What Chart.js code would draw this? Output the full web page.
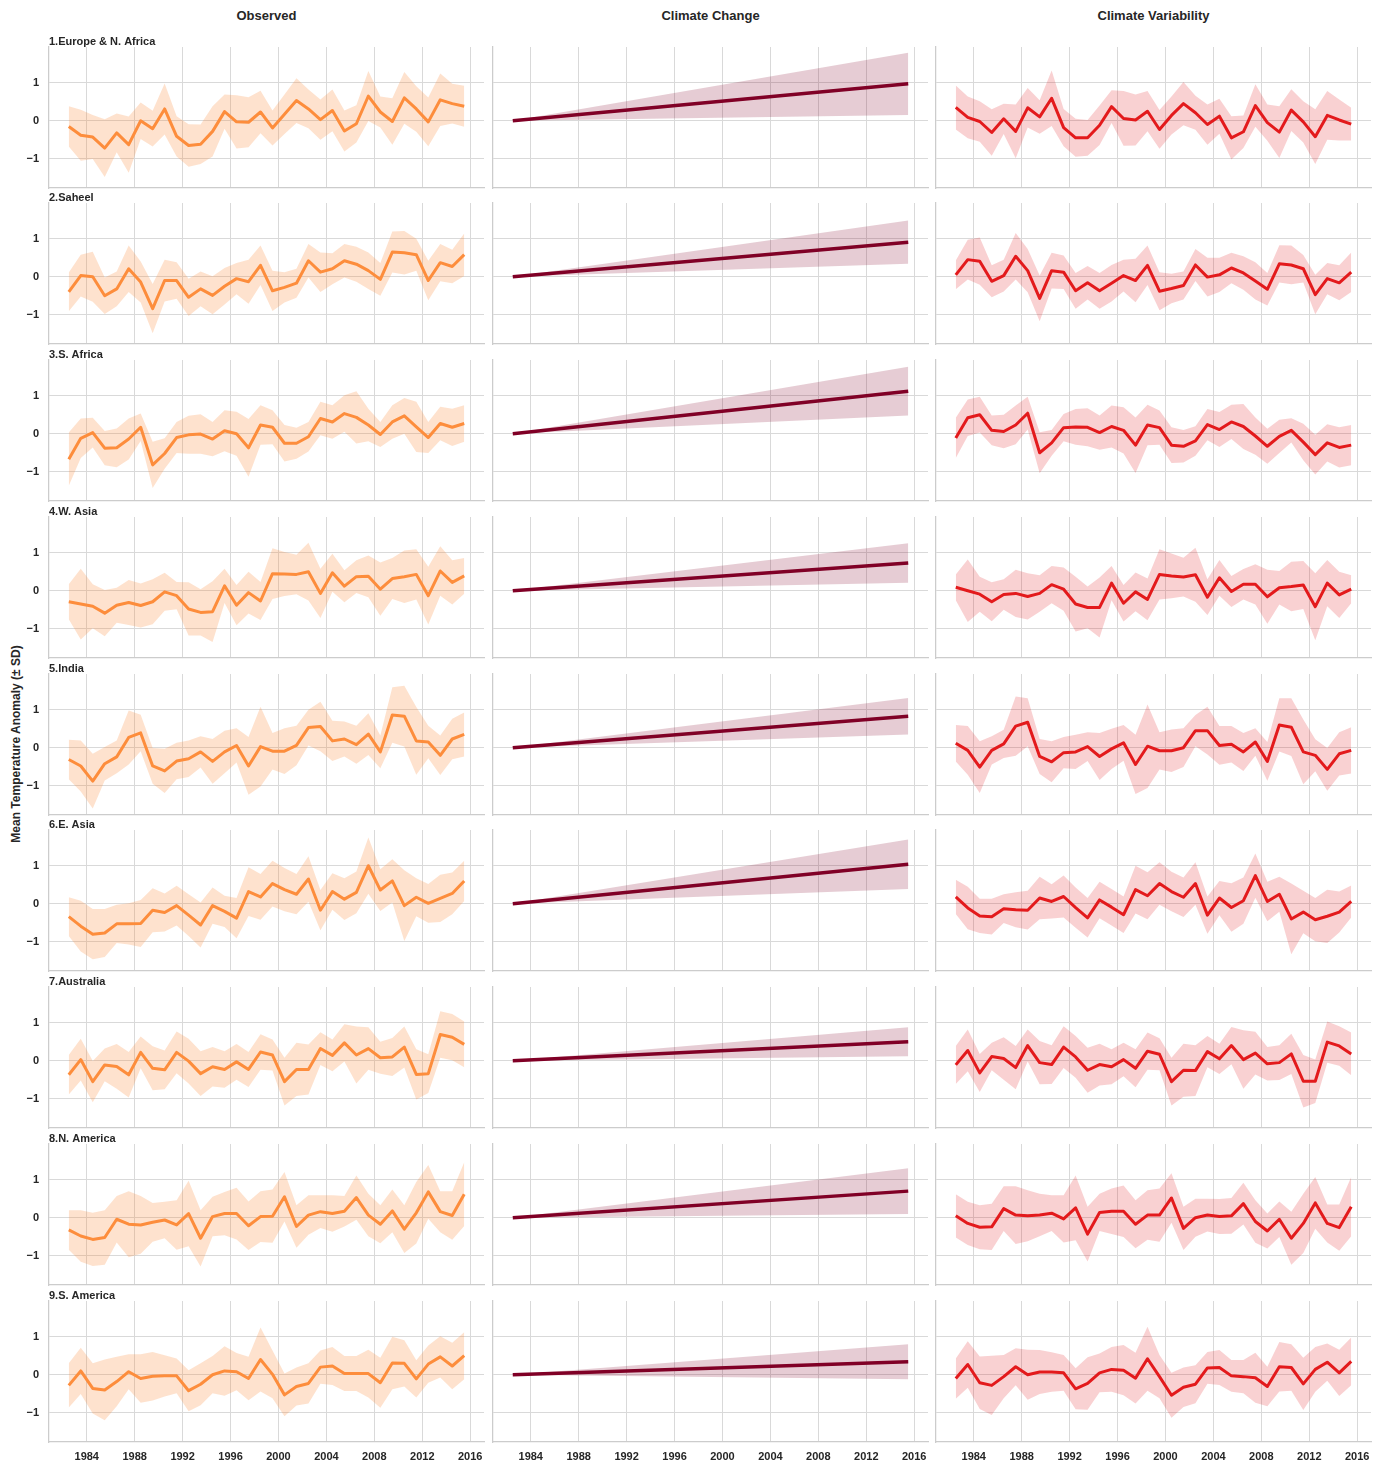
<!DOCTYPE html>
<html>
<head>
<meta charset="utf-8">
<script src="https://cdn.jsdelivr.net/npm/chart.js@4.4.1/dist/chart.umd.min.js"></script>
<style>
    body { margin: 0; background: #fff; width: 1386px; height: 1465px; position: relative; overflow: hidden;
           font-family: "Liberation Sans", Arial, sans-serif; color: #262626; }
    canvas { position: absolute; }
    .col-head { position: absolute; top: 8px; width: 435px; text-align: center; font-weight: bold; font-size: 13px; }
    .y-label { position: absolute; left: 16px; top: 744px; transform: translate(-50%, -50%) rotate(-90deg);
               white-space: nowrap; font-weight: bold; font-size: 12px; }
</style>
</head>
<body>
<div class="col-head" style="left:49px">Observed</div>
<div class="col-head" style="left:493px">Climate Change</div>
<div class="col-head" style="left:936px">Climate Variability</div>
<div class="y-label">Mean Temperature Anomaly (± SD)</div>

<script>
// Panel data
const regions = ['1.Europe & N. Africa', '2.Saheel', '3.S. Africa', '4.W. Asia', '5.India',
                 '6.E. Asia', '7.Australia', '8.N. America', '9.S. America'];
const years = [1982.5, 1983.5, 1984.5, 1985.5, 1986.5, 1987.5, 1988.5, 1989.5, 1990.5, 1991.5,
               1992.5, 1993.5, 1994.5, 1995.5, 1996.5, 1997.5, 1998.5, 1999.5, 2000.5, 2001.5,
               2002.5, 2003.5, 2004.5, 2005.5, 2006.5, 2007.5, 2008.5, 2009.5, 2010.5, 2011.5,
               2012.5, 2013.5, 2014.5, 2015.5];
const xTicks = [1984, 1988, 1992, 1996, 2000, 2004, 2008, 2012, 2016];
const yTicks = [-1, 0, 1];

// Observed: mean anomaly and SD per region
const obsMean = [
    [-0.15,-0.38,-0.43,-0.72,-0.32,-0.63,0.0,-0.21,0.31,-0.41,-0.65,-0.62,-0.28,0.24,-0.03,-0.04,0.23,-0.19,0.17,0.53,0.31,0.03,0.27,-0.27,-0.08,0.65,0.23,-0.02,0.6,0.31,-0.03,0.55,0.45,0.38],
    [-0.4,0.03,0.0,-0.5,-0.32,0.21,-0.14,-0.84,-0.1,-0.1,-0.54,-0.32,-0.49,-0.25,-0.05,-0.13,0.3,-0.37,-0.28,-0.17,0.42,0.12,0.21,0.42,0.33,0.16,-0.07,0.65,0.63,0.58,-0.1,0.37,0.27,0.58],
    [-0.67,-0.12,0.03,-0.38,-0.37,-0.14,0.17,-0.82,-0.52,-0.1,-0.03,-0.01,-0.14,0.08,0.0,-0.37,0.23,0.17,-0.25,-0.25,-0.08,0.4,0.31,0.53,0.43,0.23,-0.02,0.31,0.47,0.18,-0.1,0.27,0.17,0.27],
    [-0.29,-0.35,-0.41,-0.59,-0.38,-0.31,-0.39,-0.29,-0.03,-0.13,-0.48,-0.57,-0.55,0.13,-0.38,-0.05,-0.27,0.45,0.44,0.43,0.5,-0.07,0.47,0.12,0.37,0.38,0.04,0.32,0.37,0.43,-0.13,0.52,0.22,0.39],
    [-0.31,-0.48,-0.88,-0.42,-0.24,0.27,0.39,-0.48,-0.61,-0.35,-0.29,-0.11,-0.36,-0.11,0.06,-0.48,0.03,-0.09,-0.09,0.06,0.53,0.56,0.18,0.23,0.08,0.36,-0.11,0.86,0.83,0.18,0.15,-0.2,0.23,0.35],
    [-0.34,-0.59,-0.8,-0.77,-0.53,-0.53,-0.52,-0.17,-0.23,-0.05,-0.3,-0.56,-0.05,-0.2,-0.38,0.32,0.18,0.53,0.37,0.25,0.65,-0.17,0.32,0.12,0.3,1.0,0.36,0.6,-0.05,0.17,0.01,0.14,0.27,0.6],
    [-0.37,0.03,-0.55,-0.11,-0.15,-0.37,0.22,-0.2,-0.24,0.22,-0.01,-0.34,-0.16,-0.23,-0.03,-0.23,0.23,0.15,-0.55,-0.23,-0.23,0.32,0.14,0.47,0.15,0.32,0.08,0.1,0.36,-0.36,-0.34,0.69,0.62,0.43],
    [-0.32,-0.48,-0.57,-0.52,-0.04,-0.17,-0.19,-0.12,-0.06,-0.19,0.11,-0.54,0.03,0.11,0.11,-0.21,0.03,0.04,0.55,-0.23,0.07,0.16,0.11,0.17,0.53,0.07,-0.17,0.18,-0.3,0.13,0.68,0.16,0.06,0.62],
    [-0.28,0.1,-0.36,-0.4,-0.18,0.08,-0.1,-0.04,-0.03,-0.03,-0.42,-0.25,0.0,0.1,0.08,-0.1,0.4,0.01,-0.53,-0.31,-0.23,0.2,0.23,0.03,0.03,0.03,-0.21,0.31,0.3,-0.11,0.28,0.47,0.23,0.5]
];
const obsSd = [
    [0.53,0.67,0.58,0.76,0.51,0.74,0.48,0.47,0.67,0.53,0.56,0.52,0.66,0.45,0.7,0.66,0.56,0.46,0.52,0.59,0.51,0.53,0.55,0.54,0.49,0.66,0.41,0.61,0.68,0.6,0.64,0.69,0.52,0.54],
    [0.51,0.55,0.66,0.48,0.46,0.61,0.54,0.65,0.55,0.48,0.49,0.46,0.5,0.48,0.41,0.58,0.52,0.53,0.4,0.38,0.44,0.52,0.41,0.44,0.46,0.48,0.43,0.54,0.57,0.42,0.52,0.49,0.44,0.56],
    [0.7,0.52,0.39,0.45,0.51,0.54,0.36,0.61,0.4,0.41,0.5,0.52,0.45,0.54,0.58,0.76,0.52,0.45,0.48,0.41,0.39,0.44,0.44,0.48,0.69,0.43,0.33,0.44,0.47,0.66,0.41,0.44,0.49,0.48],
    [0.46,0.93,0.58,0.61,0.46,0.59,0.58,0.59,0.5,0.36,0.7,0.61,0.8,0.45,0.53,0.55,0.5,0.67,0.58,0.52,0.76,0.65,0.5,0.42,0.43,0.55,0.7,0.54,0.69,0.66,0.76,0.65,0.58,0.47],
    [0.52,0.67,0.72,0.44,0.43,0.71,0.48,0.47,0.58,0.48,0.48,0.41,0.59,0.56,0.45,0.76,1.05,0.48,0.6,0.52,0.47,0.65,0.53,0.46,0.5,0.55,0.43,0.73,0.8,0.89,0.43,0.52,0.53,0.58],
    [0.51,0.67,0.66,0.63,0.5,0.54,0.62,0.58,0.5,0.52,0.55,0.59,0.48,0.41,0.53,0.64,0.6,0.6,0.57,0.53,0.6,0.53,0.48,0.55,0.55,0.74,0.55,0.57,0.93,0.5,0.51,0.62,0.55,0.53],
    [0.52,0.55,0.54,0.43,0.59,0.6,0.42,0.58,0.51,0.55,0.59,0.59,0.52,0.48,0.47,0.46,0.47,0.41,0.63,0.7,0.66,0.43,0.42,0.49,0.75,0.56,0.42,0.5,0.54,0.66,0.51,0.61,0.61,0.6],
    [0.52,0.68,0.7,0.72,0.61,0.87,0.76,0.51,0.48,0.65,0.86,0.74,0.52,0.57,0.68,0.64,0.67,0.7,0.65,0.56,0.52,0.43,0.48,0.4,0.58,0.56,0.5,0.56,0.63,0.81,0.71,0.54,0.64,0.84],
    [0.58,0.61,0.66,0.8,0.65,0.46,0.64,0.64,0.54,0.46,0.54,0.55,0.49,0.65,0.49,0.57,0.84,0.63,0.56,0.5,0.53,0.44,0.5,0.46,0.46,0.63,0.66,0.69,0.61,0.49,0.49,0.54,0.61,0.62]
];

// Climate change: linear trend, value and SD at the last year (both start at 0)
const trendEnd = [0.97, 0.91, 1.12, 0.73, 0.83, 1.04, 0.5, 0.7, 0.34];
const trendSd = [0.82, 0.57, 0.64, 0.52, 0.48, 0.65, 0.38, 0.6, 0.46];

// Climate variability: mean anomaly and SD per region
const varMean = [
    [0.35,0.09,-0.02,-0.31,0.05,-0.28,0.34,0.1,0.59,-0.18,-0.45,-0.45,-0.12,0.37,0.06,0.02,0.25,-0.23,0.14,0.45,0.21,-0.1,0.12,-0.45,-0.29,0.4,-0.05,-0.3,0.28,-0.03,-0.42,0.14,0.02,-0.09],
    [0.05,0.45,0.41,-0.12,0.03,0.54,0.16,-0.57,0.16,0.12,-0.37,-0.16,-0.37,-0.17,0.03,-0.1,0.3,-0.38,-0.31,-0.23,0.31,-0.01,0.05,0.23,0.1,-0.11,-0.33,0.34,0.31,0.21,-0.47,-0.05,-0.16,0.12],
    [-0.11,0.42,0.5,0.09,0.06,0.23,0.54,-0.5,-0.24,0.16,0.18,0.17,0.03,0.19,0.09,-0.3,0.23,0.16,-0.3,-0.33,-0.19,0.24,0.11,0.31,0.19,-0.06,-0.33,-0.07,0.09,-0.22,-0.55,-0.24,-0.36,-0.3],
    [0.09,0.0,-0.09,-0.29,-0.1,-0.07,-0.15,-0.07,0.16,0.04,-0.35,-0.44,-0.44,0.2,-0.33,-0.03,-0.23,0.43,0.39,0.36,0.42,-0.17,0.34,-0.02,0.17,0.17,-0.16,0.08,0.11,0.15,-0.42,0.2,-0.11,0.04],
    [0.12,-0.07,-0.51,-0.07,0.1,0.57,0.67,-0.23,-0.37,-0.13,-0.11,0.03,-0.23,-0.03,0.13,-0.44,0.04,-0.08,-0.08,0.0,0.45,0.45,0.06,0.09,-0.11,0.15,-0.36,0.6,0.54,-0.11,-0.2,-0.57,-0.16,-0.07],
    [0.18,-0.11,-0.32,-0.34,-0.13,-0.16,-0.17,0.15,0.06,0.19,-0.1,-0.37,0.1,-0.09,-0.29,0.37,0.21,0.53,0.32,0.17,0.53,-0.3,0.15,-0.1,0.08,0.74,0.06,0.25,-0.4,-0.22,-0.42,-0.33,-0.22,0.06],
    [-0.11,0.27,-0.32,0.11,0.06,-0.18,0.4,-0.05,-0.1,0.36,0.1,-0.25,-0.1,-0.16,0.03,-0.2,0.25,0.17,-0.55,-0.25,-0.26,0.24,0.05,0.4,0.03,0.2,-0.08,-0.05,0.18,-0.54,-0.54,0.49,0.39,0.18],
    [0.05,-0.15,-0.25,-0.24,0.24,0.07,0.05,0.07,0.12,-0.03,0.26,-0.43,0.14,0.17,0.17,-0.17,0.07,0.07,0.52,-0.28,0.0,0.07,0.03,0.05,0.37,-0.1,-0.35,-0.04,-0.54,-0.15,0.39,-0.15,-0.26,0.29],
    [-0.1,0.27,-0.21,-0.28,-0.05,0.21,0.0,0.07,0.07,0.05,-0.37,-0.23,0.05,0.14,0.12,-0.09,0.42,-0.05,-0.54,-0.33,-0.25,0.18,0.19,-0.03,-0.05,-0.08,-0.31,0.21,0.19,-0.24,0.14,0.33,0.05,0.35]
];
const varSd = [
    [0.58,0.55,0.53,0.61,0.4,0.71,0.52,0.44,0.73,0.49,0.5,0.47,0.52,0.43,0.72,0.67,0.53,0.51,0.5,0.57,0.45,0.53,0.46,0.57,0.43,0.56,0.48,0.68,0.55,0.54,0.72,0.64,0.54,0.43],
    [0.38,0.52,0.62,0.42,0.42,0.61,0.57,0.6,0.47,0.44,0.47,0.44,0.47,0.48,0.42,0.57,0.52,0.5,0.39,0.37,0.42,0.51,0.45,0.4,0.44,0.49,0.43,0.49,0.51,0.36,0.52,0.41,0.46,0.52],
    [0.53,0.48,0.47,0.39,0.44,0.51,0.43,0.54,0.34,0.36,0.47,0.5,0.45,0.55,0.61,0.73,0.53,0.45,0.47,0.43,0.39,0.41,0.46,0.45,0.59,0.49,0.46,0.44,0.32,0.48,0.52,0.49,0.53,0.53],
    [0.34,0.82,0.46,0.51,0.4,0.62,0.61,0.48,0.49,0.57,0.72,0.55,0.79,0.45,0.48,0.51,0.55,0.66,0.59,0.51,0.71,0.47,0.47,0.41,0.4,0.53,0.71,0.44,0.65,0.63,0.88,0.61,0.61,0.37],
    [0.48,0.64,0.68,0.37,0.37,0.78,0.63,0.46,0.54,0.41,0.45,0.38,0.62,0.53,0.47,0.78,1.1,0.49,0.56,0.51,0.41,0.63,0.51,0.48,0.5,0.36,0.51,0.7,0.76,0.85,0.42,0.56,0.57,0.61],
    [0.45,0.56,0.45,0.47,0.38,0.46,0.51,0.56,0.45,0.55,0.53,0.52,0.48,0.48,0.48,0.63,0.62,0.56,0.52,0.52,0.56,0.49,0.45,0.64,0.61,0.58,0.52,0.46,0.93,0.56,0.57,0.7,0.54,0.42],
    [0.5,0.55,0.5,0.36,0.56,0.57,0.42,0.57,0.51,0.55,0.55,0.59,0.55,0.46,0.44,0.5,0.49,0.42,0.63,0.7,0.67,0.41,0.4,0.49,0.77,0.56,0.44,0.46,0.53,0.69,0.57,0.54,0.52,0.56],
    [0.57,0.57,0.58,0.61,0.59,0.76,0.67,0.56,0.47,0.62,0.85,0.72,0.49,0.6,0.68,0.63,0.65,0.7,0.65,0.57,0.5,0.43,0.46,0.47,0.55,0.56,0.46,0.47,0.7,0.78,0.68,0.5,0.61,0.78],
    [0.53,0.61,0.69,0.78,0.57,0.49,0.66,0.58,0.52,0.47,0.54,0.69,0.51,0.59,0.66,0.67,0.84,0.57,0.59,0.52,0.5,0.42,0.46,0.42,0.44,0.66,0.52,0.65,0.61,0.69,0.59,0.49,0.61,0.63]
];

// Layout of the 9 x 3 grid (page pixels)
const colLeft = [49, 493, 936];
const plotW = 435, plotH = 141;
const rowTop0 = 46.7, rowStep = 156.75;
const yAxisW = 40, xAxisH = 24, padTop = 14;

const colStyles = [
    { line: '#fd8d3c', band: 'rgba(253, 141, 60, 0.25)', width: 3 },
    { line: '#800026', band: 'rgba(128, 0, 38, 0.2)', width: 3.5 },
    { line: '#e31a1c', band: 'rgba(227, 26, 28, 0.2)', width: 3 }
];

Chart.defaults.font.family = '"Liberation Sans", Arial, sans-serif';
Chart.defaults.color = '#262626';

// Region label drawn at the top-left corner of the plot area
const panelTitle = {
    id: 'panelTitle',
    afterDraw(chart, args, opts) {
        if (!opts.text) return;
        const ctx = chart.ctx;
        ctx.save();
        ctx.font = 'bold 11px "Liberation Sans", Arial, sans-serif';
        ctx.fillStyle = '#262626';
        ctx.textBaseline = 'bottom';
        ctx.fillText(opts.text, chart.chartArea.left, chart.chartArea.top);
        ctx.restore();
    }
};

function points(xs, mean, sd, sign) {
    return xs.map((x, i) => ({ x: x, y: mean[i] + sign * (sd ? sd[i] : 0) }));
}

// keep every panel's plot area the same size, whatever its tick labels
function fixAxis(axis, size) {
    if (axis.isHorizontal()) axis.height = size;
    else axis.width = size;
    axis.paddingLeft = 0;
    axis.paddingRight = 0;
    axis.paddingTop = 0;
    axis.paddingBottom = 0;
}

function makePanel(row, col, xs, mean, sd) {
    const style = colStyles[col];
    const canvas = document.createElement('canvas');
    const w = yAxisW + plotW + 2;
    const h = padTop + plotH + xAxisH;
    canvas.width = w;
    canvas.height = h;
    canvas.style.left = (colLeft[col] - yAxisW) + 'px';
    canvas.style.top = (rowTop0 + row * rowStep - padTop) + 'px';
    document.body.appendChild(canvas);

    const lastRow = row === regions.length - 1;
    new Chart(canvas.getContext('2d'), {
        type: 'line',
        data: {
            datasets: [
                { data: points(xs, mean, sd, 1), borderWidth: 0, pointRadius: 0,
                  backgroundColor: style.band, fill: '+1', order: 1 },
                { data: points(xs, mean, sd, -1), borderWidth: 0, pointRadius: 0,
                  fill: false, order: 1 },
                { data: points(xs, mean, null, 0), borderColor: style.line, borderWidth: style.width,
                  borderJoinStyle: 'round', pointRadius: 0, fill: false, order: 0 }
            ]
        },
        options: {
            responsive: false,
            animation: false,
            devicePixelRatio: 1,
            layout: { padding: { top: padTop, left: 0, right: 2, bottom: 0 } },
            plugins: {
                legend: { display: false },
                tooltip: { enabled: false },
                panelTitle: { text: col === 0 ? regions[row] : '' }
            },
            scales: {
                x: {
                    type: 'linear',
                    min: 1980.85,
                    max: 2017.15,
                    afterBuildTicks: axis => { axis.ticks = xTicks.map(v => ({ value: v })); },
                    afterFit: axis => fixAxis(axis, xAxisH),
                    grid: { color: '#d9d9d9', lineWidth: 1, drawTicks: false },
                    border: { color: '#cccccc', width: 1.25 },
                    ticks: {
                        display: lastRow,
                        padding: 8,
                        maxRotation: 0,
                        font: { size: 11, weight: 'bold' },
                        callback: v => String(v)
                    }
                },
                y: {
                    min: -1.77,
                    max: 1.94,
                    afterBuildTicks: axis => { axis.ticks = yTicks.map(v => ({ value: v })); },
                    afterFit: axis => fixAxis(axis, yAxisW),
                    grid: { color: '#d9d9d9', lineWidth: 1, drawTicks: false },
                    border: { color: '#cccccc', width: 1.25 },
                    ticks: {
                        display: col === 0,
                        padding: 10,
                        font: { size: 11, weight: 'bold' },
                        callback: v => (v < 0 ? '\u2212' + Math.abs(v) : String(v))
                    }
                }
            }
        },
        plugins: [panelTitle]
    });
}

const trendYears = [years[0], years[years.length - 1]];
regions.forEach((name, r) => {
    makePanel(r, 0, years, obsMean[r], obsSd[r]);
    makePanel(r, 1, trendYears, [0, trendEnd[r]], [0, trendSd[r]]);
    makePanel(r, 2, years, varMean[r], varSd[r]);
});
</script>
</body>
</html>
